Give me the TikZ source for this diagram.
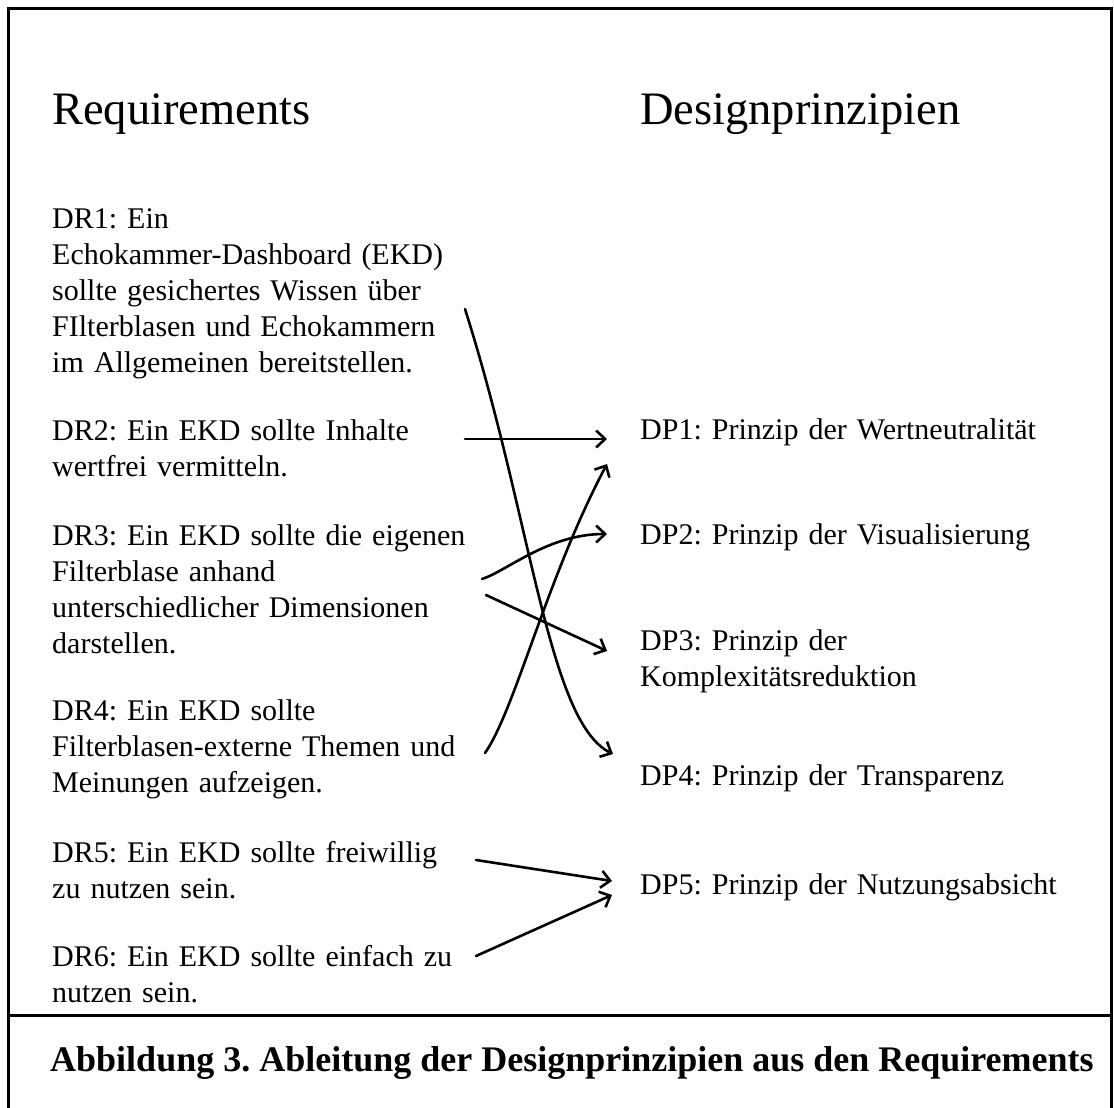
\documentclass[tikz,border=0pt]{standalone}
\usepackage{fontspec}
\setmainfont{Liberation Serif}
\usetikzlibrary{arrows.meta}
\frenchspacing
\begin{document}
\begin{tikzpicture}[x=1pt,y=-1pt,
  body/.style={anchor=base west, inner sep=0pt, align=left, text width=440pt,
    font=\frenchspacing\fontsize{30}{36.2}\selectfont},
  heading/.style={anchor=base west, inner sep=0pt, font=\fontsize{46.5}{50}\selectfont},
  capt/.style={anchor=base west, inner sep=0pt, font=\frenchspacing\fontsize{36}{40}\selectfont\bfseries},
  conn/.style={line width=2.6pt, line cap=round,
    -{Straight Barb[length=9pt,width=17pt,line width=2.6pt]}},
  frame/.style={line width=3pt}]
\useasboundingbox (0,0) rectangle (1114,1108);
\draw[frame] (8.5,1120) -- (8.5,8.5) -- (1111,8.5) -- (1111,1120);
\draw[frame] (8.5,1015) -- (1111,1015);

\node[heading] (hreq) at (52,124) {Requirements};
\node[heading] (hdp) at (640,124) {Designprinzipien};

\node[body] (dr1) at (52,228) {DR1: Ein\\Echokammer-Dashboard (EKD)\\sollte gesichertes Wissen über\\FIlterblasen und Echokammern\\im Allgemeinen bereitstellen.};
\node[body] (dr2) at (52,440) {DR2: Ein EKD sollte Inhalte\\wertfrei vermitteln.};
\node[body] (dr3) at (52,545) {DR3: Ein EKD sollte die eigenen\\Filterblase anhand\\unterschiedlicher Dimensionen\\darstellen.};
\node[body] (dr4) at (52,720) {DR4: Ein EKD sollte\\Filterblasen-externe Themen und\\Meinungen aufzeigen.};
\node[body] (dr5) at (52,862) {DR5: Ein EKD sollte freiwillig\\zu nutzen sein.};
\node[body] (dr6) at (52,966) {DR6: Ein EKD sollte einfach zu\\nutzen sein.};

\node[body] (dp1) at (640,439) {DP1: Prinzip der Wertneutralität};
\node[body] (dp2) at (640,544) {DP2: Prinzip der Visualisierung};
\node[body] (dp3) at (640,650) {DP3: Prinzip der\\Komplexitätsreduktion};
\node[body] (dp4) at (640,785) {DP4: Prinzip der Transparenz};
\node[body] (dp5) at (640,894) {DP5: Prinzip der Nutzungsabsicht};

\node[capt] (cap) at (50,1071) {Abbildung 3. Ableitung der Designprinzipien aus den Requirements};

% connector end points
\coordinate (dr1o) at (465,309);
\coordinate (dr2o) at (465,439);
\coordinate (dr3a) at (482,579);
\coordinate (dr3b) at (486,595);
\coordinate (dr4o) at (485,753);
\coordinate (dr5o) at (476,860);
\coordinate (dr6o) at (476,956);
\coordinate (dp1a) at (607,439);
\coordinate (dp1b) at (607,464);
\coordinate (dp2i) at (607,534);
\coordinate (dp3i) at (607,651);
\coordinate (dp4i) at (613,754);
\coordinate (dp5a) at (612,881);
\coordinate (dp5b) at (612,895);

\draw[conn] (dr1o) .. controls (532,520) and (548,722) .. (dp4i);
\draw[conn] (dr2o) -- (dp1a);
\draw[conn] (dr4o) .. controls (515,710) and (547,577) .. (dp1b);
\draw[conn] (dr3a) .. controls (507,571) and (548,534) .. (dp2i);
\draw[conn] (dr3b) -- (dp3i);
\draw[conn] (dr5o) -- (dp5a);
\draw[conn] (dr6o) -- (dp5b);
\end{tikzpicture}
\end{document}
